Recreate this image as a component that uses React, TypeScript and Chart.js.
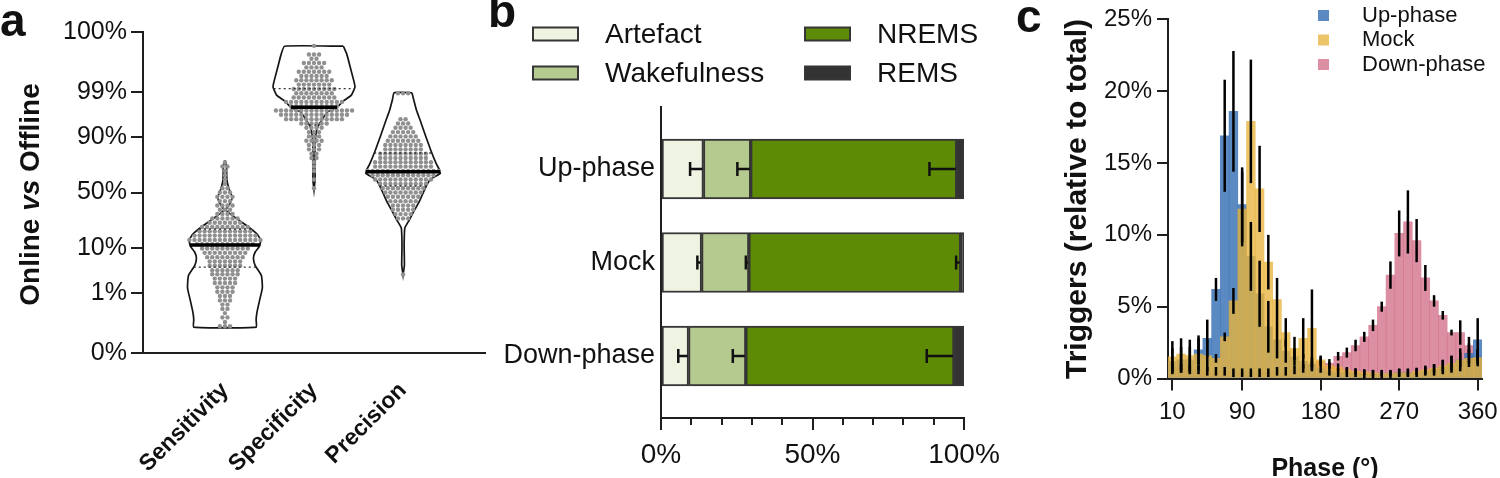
import React, { useEffect, useRef } from 'react';
import { Chart, registerables, Scale } from 'chart.js';

Chart.register(...registerables);

const FONT = '"Liberation Sans", Arial, Helvetica, sans-serif';
const INK = '#111111';
const AXIS = '#1e1e1e';
Chart.defaults.font.family = FONT;
Chart.defaults.color = INK;

// ---------------- Panel a data ----------------
const METRICS = ['Sensitivity', 'Specificity', 'Precision'];
const Y_TICKS_A = [0, 1, 10, 50, 90, 99, 100];
// violin outline: [value %, half width (fraction of category spacing)]
const SENS_VIOLIN: [number, number][] = [[77.3, 0], [73.0, 0.017], [61.4, 0.022], [52.3, 0.05], [45.9, 0.08], [40.4, 0.06], [34.3, 0.012], [27.8, 0.12], [21.9, 0.25], [16.8, 0.36], [13.6, 0.4], [10.8, 0.39], [8.4, 0.34], [6.4, 0.32], [4.5, 0.34], [2.7, 0.41], [1.35, 0.42], [0.64, 0.39], [0.28, 0.36], [0.16, 0.35], [0.09, 0.35]];
const SPEC_VIOLIN: [number, number][] = [[99.965, 0.33], [99.93, 0.37], [99.8, 0.41], [99.48, 0.45], [99.27, 0.46], [98.8, 0.42], [98.3, 0.33], [97.6, 0.26], [96.9, 0.15], [95.4, 0.09], [93.5, 0.04], [90.8, 0.02], [84.9, 0.012], [73.9, 0.01], [61.4, 0.012], [52.4, 0]];
const PREC_VIOLIN: [number, number][] = [[98.96, 0.1], [98.4, 0.12], [97.2, 0.15], [95.4, 0.19], [90.8, 0.25], [83.8, 0.31], [75.2, 0.37], [69.8, 0.41], [67.4, 0.42], [61.4, 0.3], [52.3, 0.24], [43.1, 0.19], [34.3, 0.13], [26.2, 0.07], [20.6, 0.02], [11.1, 0.012], [4.6, 0.015], [2.8, 0]];
// individual recordings: [value %, number of dots at that value]
const SENS_DOTS: [number, number][] = [[75.8, 1], [72.6, 2], [69.1, 1], [65.5, 1], [61.8, 1], [57.9, 1], [54.0, 2], [50.0, 3], [46.0, 4], [42.1, 3], [38.2, 4], [34.5, 3], [30.9, 4], [27.4, 6], [24.2, 7], [21.2, 10], [18.4, 11], [15.9, 13], [13.6, 15], [11.5, 12], [9.7, 10], [8.1, 9], [6.7, 8], [5.5, 7], [4.5, 7], [3.6, 6], [2.9, 6], [2.3, 5], [1.8, 5], [1.4, 4], [1.07, 4], [0.82, 3], [0.62, 3], [0.47, 2], [0.35, 2], [0.26, 1], [0.19, 2], [0.135, 1], [0.097, 3]];
const SPEC_DOTS: [number, number][] = [[99.966, 1], [99.931, 3], [99.903, 2], [99.865, 5], [99.813, 4], [99.744, 7], [99.653, 6], [99.534, 8], [99.38, 7], [99.18, 9], [98.93, 8], [98.61, 9], [98.21, 12], [97.72, 10], [97.13, 16], [96.41, 14], [95.54, 12], [94.52, 6], [93.32, 4], [91.92, 3], [90.32, 3], [88.49, 4], [86.43, 3], [84.13, 3], [81.59, 2], [78.81, 2], [75.8, 1], [72.57, 1], [69.15, 1], [61.79, 1], [53.98, 1]];
const PREC_DOTS: [number, number][] = [[98.93, 3], [95.54, 2], [94.52, 3], [93.32, 4], [91.92, 5], [90.32, 6], [88.49, 7], [86.43, 8], [84.13, 8], [81.59, 10], [78.81, 10], [75.8, 12], [72.57, 12], [69.15, 15], [65.54, 13], [61.79, 12], [57.93, 10], [53.98, 9], [50.0, 8], [46.02, 7], [42.07, 6], [38.21, 5], [34.46, 5], [30.85, 4], [27.43, 3], [2.87, 1]];
const MEDIANS = [11.2, 97.6, 68.4];
const QUARTILES: [number, number][] = [[4.2, 19.9], [94.1, 99.2], [56.0, 82.0]];

// ---------------- Panel b data ----------------
const STAGES = ['Artefact', 'Wakefulness', 'NREMS', 'REMS'];
const CONDITIONS = ['Up-phase', 'Mock', 'Down-phase'];
const ARTEFACT = [14.0, 13.4, 9.1];
const WAKEFULNESS = [15.6, 15.6, 18.9];
const NREMS = [68.0, 69.9, 68.7];
const REMS = [2.4, 1.1, 3.3];
const ARTEFACT_ERR = [4.4, 1.4, 3.4];
const WAKEFULNESS_ERR = [4.4, 1.0, 4.3];
const NREMS_ERR = [9.0, 1.5, 9.0];
const STAGE_COLORS = ['#eef3e2', '#b5ca8e', '#5e8b06', '#333333'];

// ---------------- Panel c data ----------------
const PHASE_BINS = [10, 20, 30, 40, 50, 60, 70, 80, 90, 100, 110, 120, 130, 140, 150, 160, 170, 180, 190, 200, 210, 220, 230, 240, 250, 260, 270, 280, 290, 300, 310, 320, 330, 340, 350, 360];
const PHASE_TICKS = [10, 90, 180, 270, 360];
const UP_PHASE = [1.2, 1.3, 1.3, 2.0, 2.8, 6.2, 16.9, 18.6, 12.1, 8.5, 5.9, 3.6, 2.7, 1.9, 1.5, 1.2, 1.0, 0.7, 0.5, 0.4, 0.4, 0.4, 0.3, 0.3, 0.3, 0.3, 0.4, 0.4, 0.4, 0.5, 0.6, 0.8, 1.0, 1.3, 1.75, 2.7];
const UP_PHASE_ERR = [0.9, 0.9, 0.9, 1.0, 1.3, 0.8, 3.9, 4.2, 2.6, 2.4, 2.3, 1.8, 1.3, 0.8, 0.6, 0.5, 0.5, 0.3, 0.3, 0.3, 0.3, 0.3, 0.3, 0.3, 0.3, 0.3, 0.3, 0.3, 0.3, 0.3, 0.4, 0.5, 0.6, 0.8, 0.7, 1.5];
const MOCK = [1.5, 1.7, 1.6, 1.7, 1.6, 1.4, 2.9, 5.4, 11.8, 17.9, 13.2, 8.1, 5.5, 3.2, 2.1, 2.8, 3.5, 1.3, 0.9, 0.8, 0.6, 0.5, 0.45, 0.4, 0.35, 0.35, 0.4, 0.4, 0.5, 0.6, 0.7, 0.9, 1.05, 1.3, 1.4, 1.45];
const MOCK_ERR = [1.1, 1.1, 1.1, 1.1, 1.1, 0.3, 0.3, 0.9, 2.6, 4.3, 3.0, 1.9, 1.5, 1.0, 0.8, 1.4, 2.7, 0.3, 0.25, 0.25, 0.2, 0.2, 0.2, 0.2, 0.2, 0.2, 0.25, 0.25, 0.25, 0.3, 0.3, 0.4, 0.5, 0.5, 0.6, 0.6];
const DOWN_PHASE = [0.8, 0.7, 0.6, 0.6, 0.5, 0.5, 0.5, 0.4, 0.4, 0.4, 0.4, 0.4, 0.5, 0.5, 0.6, 0.7, 0.9, 1.2, 1.05, 1.55, 1.8, 2.3, 2.9, 3.7, 5.0, 7.2, 10.1, 10.9, 9.6, 7.0, 5.4, 4.4, 3.2, 3.2, 2.3, 1.5];
const DOWN_PHASE_ERR = [0.3, 0.3, 0.3, 0.3, 0.3, 0.3, 0.3, 0.3, 0.3, 0.3, 0.3, 0.3, 0.3, 0.3, 0.3, 0.3, 0.3, 0.3, 0.3, 0.3, 0.35, 0.4, 0.35, 0.4, 0.35, 0.95, 1.6, 2.2, 1.5, 0.9, 0.4, 0.3, 0.2, 0.85, 0.6, 0.5];
const C_SERIES = ['Up-phase', 'Mock', 'Down-phase'];
const C_COLORS = ['rgba(62,118,184,0.85)', 'rgba(232,180,60,0.78)', 'rgba(206,100,126,0.72)'];

// ---------------- probit scale (Prism "probability" axis) ----------------
function probit(p: number): number {
  const a = [-39.69683028665376, 220.9460984245205, -275.9285104469687, 138.357751867269, -30.66479806614716, 2.506628277459239];
  const b = [-54.47609879822406, 161.5858368580409, -155.6989798598866, 66.80131188771972, -13.28068155288572];
  const c = [-0.007784894002430293, -0.3223964580411365, -2.400758277161838, -2.549732539343734, 4.374664141464968, 2.938163982698783];
  const d = [0.007784695709041462, 0.3224671290700398, 2.445134137142996, 3.754408661907416];
  const pl = 0.02425;
  if (p < pl) {
    const q = Math.sqrt(-2 * Math.log(p));
    return (((((c[0] * q + c[1]) * q + c[2]) * q + c[3]) * q + c[4]) * q + c[5]) / ((((d[0] * q + d[1]) * q + d[2]) * q + d[3]) * q + 1);
  }
  if (p <= 1 - pl) {
    const q = p - 0.5, r = q * q;
    return (((((a[0] * r + a[1]) * r + a[2]) * r + a[3]) * r + a[4]) * r + a[5]) * q / (((((b[0] * r + b[1]) * r + b[2]) * r + b[3]) * r + b[4]) * r + 1);
  }
  const q = Math.sqrt(-2 * Math.log(1 - p));
  return -(((((c[0] * q + c[1]) * q + c[2]) * q + c[3]) * q + c[4]) * q + c[5]) / ((((d[0] * q + d[1]) * q + d[2]) * q + d[3]) * q + 1);
}
const pv = (pct: number) => probit(Math.min(0.9999, Math.max(0.0001, pct / 100)));

class ProbitScale extends (Scale as any) {
  static id = 'probit';
  static defaults = {};
  parse(raw: any) { return typeof raw === 'number' ? raw : Number(raw); }
  determineDataLimits() { this.min = this.options.min ?? 0; this.max = this.options.max ?? 100; }
  buildTicks() { return Y_TICKS_A.map((v) => ({ value: v })); }
  getLabelForValue(v: number) { return v + '%'; }
  configure() {
    super.configure();
    this._ps = pv(this.min);
    this._pr = pv(this.max) - this._ps;
  }
  getPixelForValue(v: number) { return this.getPixelForDecimal((pv(v) - this._ps) / this._pr); }
  getValueForPixel(px: number) {
    const z = this._ps + this.getDecimalForPixel(px) * this._pr;
    return 50 * (1 + Math.tanh(0.7978845608 * (z + 0.044715 * z * z * z)));
  }
}
Chart.register(ProbitScale as any);

const DOT_STEP = 0.057;

function halfWidthAt(v: [number, number][], p: number) {
  for (let i = 0; i < v.length - 1; i++) {
    const [p1, w1] = v[i];
    const [p2, w2] = v[i + 1];
    if (p <= p1 && p >= p2) {
      const t = (pv(p1) - pv(p)) / (pv(p1) - pv(p2));
      return w1 + (w2 - w1) * t;
    }
  }
  return 0;
}

function configA(): any {
  const violins = [SENS_VIOLIN, SPEC_VIOLIN, PREC_VIOLIN];
  const dots = [SENS_DOTS, SPEC_DOTS, PREC_DOTS];
  const datasets: any[] = [];
  violins.forEach((v, i) => {
    const right = v.map(([p, w]) => ({ x: i + w, y: p }));
    const left = v.slice().reverse().map(([p, w]) => ({ x: i - w, y: p }));
    datasets.push({ type: 'line', data: [...right, ...left, right[0]], borderColor: '#151515', borderWidth: 1.7, pointRadius: 0, tension: 0.15, fill: false, order: 4 });
  });
  dots.forEach((rows, i) => {
    const pts: any[] = [];
    rows.forEach(([p, n]) => {
      for (let j = 0; j < n; j++) pts.push({ x: i + (j - (n - 1) / 2) * DOT_STEP, y: p });
    });
    datasets.push({ type: 'scatter', data: pts, pointRadius: 2.2, pointBackgroundColor: '#909090', pointBorderWidth: 0, order: 3 });
  });
  QUARTILES.forEach((qs, i) => {
    qs.forEach((q) => {
      const w = halfWidthAt(violins[i], q);
      datasets.push({ type: 'line', data: [{ x: i - w, y: q }, { x: i + w, y: q }], borderColor: '#333', borderWidth: 1.3, borderDash: [2, 3], pointRadius: 0, order: 2 });
    });
  });
  MEDIANS.forEach((m, i) => {
    const w = halfWidthAt(violins[i], m);
    datasets.push({ type: 'line', data: [{ x: i - w, y: m }, { x: i + w, y: m }], borderColor: '#000', borderWidth: 3.5, pointRadius: 0, order: 1 });
  });
  return {
    type: 'line',
    data: { datasets },
    options: {
      animation: false, responsive: false, events: [],
      layout: { padding: { top: 32, right: 5, left: 0, bottom: 0 } },
      plugins: { legend: { display: false }, tooltip: { enabled: false } },
      scales: {
        x: {
          type: 'linear', min: -0.92, max: 2.92, offset: false,
          afterBuildTicks: (s: any) => { s.ticks = METRICS.map((_, i) => ({ value: i })); },
          afterFit: (s: any) => { s.height = 125; },
          grid: { display: false, drawTicks: false, offset: false },
          border: { display: true, color: AXIS, width: 2 },
          ticks: { autoSkip: false, minRotation: 45, maxRotation: 45, padding: 24, color: INK, font: { size: 23, weight: 'bold' }, callback: (v: number) => METRICS[Math.round(v)] },
        },
        y: {
          type: 'probit', min: 0, max: 100,
          afterFit: (s: any) => { s.width = 143; },
          grid: { drawOnChartArea: false, drawTicks: true, tickLength: 12, color: AXIS, lineWidth: 2 },
          border: { color: AXIS, width: 2 },
          ticks: { padding: 4, color: INK, font: { size: 25 }, callback: (v: number) => v + '%' },
        },
      },
    },
    plugins: [{
      id: 'decorA',
      afterDraw(chart: any) {
        const ctx = chart.ctx;
        const ca = chart.chartArea;
        ctx.save();
        ctx.fillStyle = INK;
        ctx.font = `bold 46px ${FONT}`;
        ctx.textBaseline = 'alphabetic';
        ctx.fillText('a', 0, 36);
        ctx.translate(31, (ca.top + ca.bottom) / 2 + 2);
        ctx.rotate(-Math.PI / 2);
        const parts: [string, string][] = [['Online ', `bold 28px ${FONT}`], ['vs', `italic bold 28px ${FONT}`], [' Offline', `bold 28px ${FONT}`]];
        let total = 0;
        parts.forEach(([t, f]) => { ctx.font = f; total += ctx.measureText(t).width; });
        let x = -total / 2;
        ctx.textBaseline = 'middle';
        parts.forEach(([t, f]) => { ctx.font = f; ctx.fillText(t, x, 0); x += ctx.measureText(t).width; });
        ctx.restore();
      },
    }],
  };
}

function configB(): any {
  const values = [ARTEFACT, WAKEFULNESS, NREMS, REMS];
  const datasets = STAGES.map((name, k) => ({
    label: name,
    data: values[k].map((v, i) => ({ x: v, y: i })),
    backgroundColor: STAGE_COLORS[k],
    borderColor: '#363636',
    borderWidth: 2,
    borderSkipped: false,
    barThickness: 60,
    grouped: false,
  }));
  const errs = [ARTEFACT_ERR, WAKEFULNESS_ERR, NREMS_ERR];
  return {
    type: 'bar',
    data: { datasets },
    options: {
      indexAxis: 'y', animation: false, responsive: false, events: [],
      layout: { padding: { top: 107, right: 46, left: 0, bottom: 0 } },
      plugins: { legend: { display: false }, tooltip: { enabled: false } },
      scales: {
        x: {
          type: 'linear', stacked: true, min: 0, max: 100, offset: false,
          afterFit: (s: any) => { s.height = 60; },
          grid: { drawOnChartArea: false, offset: false, tickLength: 12, lineWidth: 2, color: AXIS, tickColor: (c: any) => (c.tick && c.tick.value % 50 === 0 ? AXIS : 'rgba(0,0,0,0)') },
          border: { color: AXIS, width: 2 },
          ticks: { stepSize: 10, autoSkip: false, maxRotation: 0, padding: 8, color: INK, font: { size: 28 }, callback: (v: number) => (v % 50 === 0 ? v + '%' : '') },
        },
        y: {
          type: 'linear', min: -0.663, max: 2.663, reverse: true, offset: false,
          afterBuildTicks: (s: any) => { s.ticks = CONDITIONS.map((_, i) => ({ value: i })); },
          afterFit: (s: any) => { s.width = 171; },
          grid: { display: false, drawTicks: false, offset: false },
          border: { color: AXIS, width: 2 },
          ticks: { padding: 6, color: INK, font: { size: 27 }, callback: (v: number) => CONDITIONS[Math.round(v)] },
        },
      },
    },
    plugins: [{
      id: 'decorB',
      afterDatasetsDraw(chart: any) {
        const { ctx, scales: { x, y } } = chart;
        ctx.save();
        ctx.strokeStyle = '#111';
        ctx.lineWidth = 2.5;
        CONDITIONS.forEach((_, i) => {
          let cum = 0;
          errs.forEach((e, k) => {
            cum += values[k][i];
            const xe = x.getPixelForValue(cum) - 1;
            const xs = x.getPixelForValue(cum - e[i]);
            const yc = y.getPixelForValue(i);
            ctx.beginPath();
            ctx.moveTo(xs, yc); ctx.lineTo(xe, yc);
            ctx.moveTo(xs, yc - 7); ctx.lineTo(xs, yc + 7);
            ctx.stroke();
          });
        });
        ctx.restore();
      },
      afterDraw(chart: any) {
        const { ctx, scales: { x }, chartArea } = chart;
        ctx.save();
        ctx.strokeStyle = AXIS;
        ctx.lineWidth = 2;
        [10, 20, 30, 40, 60, 70, 80, 90].forEach((v) => {
          const px = Math.round(x.getPixelForValue(v));
          ctx.beginPath(); ctx.moveTo(px, chartArea.bottom); ctx.lineTo(px, chartArea.bottom + 7); ctx.stroke();
        });
        ctx.fillStyle = INK;
        ctx.font = `bold 46px ${FONT}`;
        ctx.textBaseline = 'alphabetic';
        ctx.fillText('b', -2, 27);
        // legend (two columns)
        const pos = [[43, 34], [43, 73], [315, 34], [315, 73]];
        chart.data.datasets.forEach((ds: any, k: number) => {
          const [bx, cy] = pos[k];
          ctx.fillStyle = ds.backgroundColor;
          ctx.strokeStyle = '#363636';
          ctx.lineWidth = 2;
          ctx.fillRect(bx, cy - 6.5, 45, 13);
          ctx.strokeRect(bx, cy - 6.5, 45, 13);
          ctx.fillStyle = INK;
          ctx.font = `28px ${FONT}`;
          ctx.textBaseline = 'middle';
          ctx.fillText(ds.label, bx + 72, cy + 1);
        });
        ctx.restore();
      },
    }],
  };
}

function configC(): any {
  const series = [UP_PHASE, MOCK, DOWN_PHASE];
  const errs = [UP_PHASE_ERR, MOCK_ERR, DOWN_PHASE_ERR];
  const orders = [2, 1, 3];
  const datasets = C_SERIES.map((name, k) => ({
    label: name,
    data: series[k].map((v, i) => ({ x: PHASE_BINS[i], y: v })),
    backgroundColor: C_COLORS[k],
    borderWidth: 0,
    barPercentage: 1,
    categoryPercentage: 1,
    grouped: false,
    order: orders[k],
  }));
  return {
    type: 'bar',
    data: { datasets },
    options: {
      animation: false, responsive: false, events: [],
      layout: { padding: { top: 17.5, right: 21, left: 0, bottom: 0 } },
      plugins: { legend: { display: false }, tooltip: { enabled: false } },
      scales: {
        x: {
          type: 'linear', min: 5, max: 365, z: 1, offset: false,
          afterBuildTicks: (s: any) => { s.ticks = PHASE_TICKS.map((v) => ({ value: v })); },
          afterFit: (s: any) => { s.height = 99.5; },
          grid: { drawOnChartArea: false, offset: false, tickLength: 12, lineWidth: 2, color: AXIS },
          border: { color: AXIS, width: 2 },
          ticks: { autoSkip: false, maxRotation: 0, padding: 7, color: INK, font: { size: 24 } },
          title: { display: true, text: 'Phase (°)', color: INK, font: { size: 25, weight: 'bold', lineHeight: 0.75 }, padding: { top: 0, bottom: 0 } },
        },
        y: {
          type: 'linear', min: 0, max: 25, z: 1,
          afterFit: (s: any) => { s.width = 158; },
          grid: { drawOnChartArea: false, tickLength: 11, lineWidth: 2, color: AXIS },
          border: { color: AXIS, width: 2 },
          ticks: { stepSize: 5, padding: 5, color: INK, font: { size: 24 }, callback: (v: number) => v + '%' },
          title: { display: true, text: 'Triggers (relative to total)', color: INK, font: { size: 30, weight: 'bold' }, padding: { top: 50, bottom: 0 } },
        },
      },
    },
    plugins: [{
      id: 'decorC',
      afterDatasetsDraw(chart: any) {
        const { ctx, scales: { x, y } } = chart;
        ctx.save();
        ctx.strokeStyle = '#000';
        ctx.lineWidth = 2.5;
        series.forEach((s, k) => {
          s.forEach((v, i) => {
            const px = x.getPixelForValue(PHASE_BINS[i]);
            ctx.beginPath();
            ctx.moveTo(px, y.getPixelForValue(Math.max(0, v - errs[k][i])));
            ctx.lineTo(px, y.getPixelForValue(v + errs[k][i]));
            ctx.stroke();
          });
        });
        ctx.restore();
      },
      afterDraw(chart: any) {
        const { ctx } = chart;
        ctx.save();
        ctx.fillStyle = INK;
        ctx.font = `bold 46px ${FONT}`;
        ctx.textBaseline = 'alphabetic';
        ctx.fillText('c', 6, 32);
        const rows = [15.5, 40, 64.5];
        chart.data.datasets.forEach((ds: any, k: number) => {
          ctx.fillStyle = ds.backgroundColor;
          ctx.fillRect(308, rows[k] - 5.5, 11, 11);
          ctx.fillStyle = INK;
          ctx.font = `22px ${FONT}`;
          ctx.textBaseline = 'middle';
          ctx.fillText(ds.label, 352, rows[k]);
        });
        ctx.restore();
      },
    }],
  };
}

export default function App() {
  const refA = useRef<HTMLCanvasElement>(null);
  const refB = useRef<HTMLCanvasElement>(null);
  const refC = useRef<HTMLCanvasElement>(null);
  useEffect(() => {
    document.body.style.margin = '0';
    const charts = [
      new Chart(refA.current as HTMLCanvasElement, configA()),
      new Chart(refB.current as HTMLCanvasElement, configB()),
      new Chart(refC.current as HTMLCanvasElement, configC()),
    ];
    return () => charts.forEach((c) => c.destroy());
  }, []);
  return (
    <div style={{ position: 'relative', width: 1500, height: 478, overflow: 'hidden', background: '#fff' }}>
      <canvas ref={refA} width={490} height={478} style={{ position: 'absolute', left: 0, top: 0 }} />
      <canvas ref={refB} width={520} height={478} style={{ position: 'absolute', left: 490, top: 0 }} />
      <canvas ref={refC} width={495} height={478} style={{ position: 'absolute', left: 1010, top: 0 }} />
    </div>
  );
}
